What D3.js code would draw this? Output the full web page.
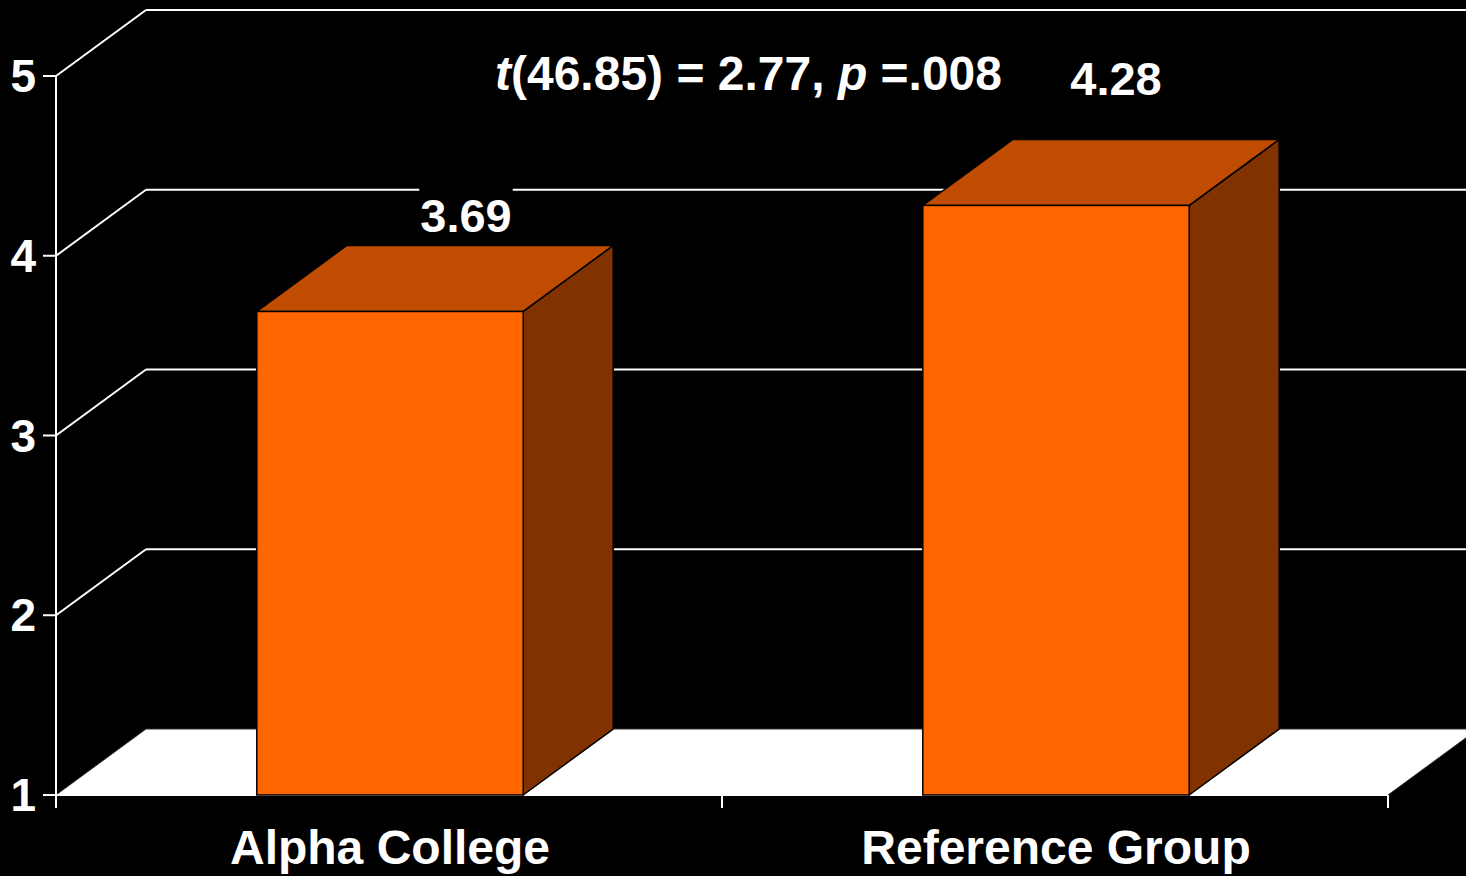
<!DOCTYPE html>
<html>
<head>
<meta charset="utf-8">
<script src="https://cdn.jsdelivr.net/npm/d3@7"></script>
<style>
  html, body { margin: 0; padding: 0; background: #000; }
  svg { display: block; }
</style>
</head>
<body>
<svg id="chart"></svg>
<script>
// Chart data
const categories = ["Alpha College", "Reference Group"];
const means = [3.69, 4.28];
const valueLabels = ["3.69", "4.28"];
const yTicks = [1, 2, 3, 4, 5];
const annotation = [
  { text: "t", italic: true },
  { text: "(46.85) = 2.77, ", italic: false },
  { text: "p", italic: true },
  { text: " =.008", italic: false }
];

// Layout
const chartW = 1466, chartH = 876;
const plotLeft = 56, plotRight = 1388, plotBottom = 795, plotTop = 76;
const depthX = 90, depthY = 66; // 3D offset of the back wall
const font = "'Liberation Sans', Arial, sans-serif";
// value labels sit a little off the bar top, as in the original
const labelShift = [[76, 0], [60, 31]];

const svg = d3.select("#chart").attr("width", chartW).attr("height", chartH);

svg.append("rect").attr("width", chartW).attr("height", chartH).attr("fill", "#000");

const x = d3.scaleBand().domain(categories).range([plotLeft, plotRight]).padding(0);
const y = d3.scaleLinear().domain([1, 5]).range([plotBottom, plotTop]);
const barW = x.bandwidth() * 0.4;

const pts = (arr) => arr.map((p) => p.join(",")).join(" ");

// Floor
const yMin = y(1);
svg.append("polygon")
  .attr("points", pts([
    [plotLeft, yMin], [plotRight, yMin],
    [plotRight + depthX, yMin - depthY], [plotLeft + depthX, yMin - depthY]
  ]))
  .attr("fill", "#fff")
  .attr("stroke", "#333")
  .attr("stroke-width", 1);

// Back wall gridlines and left wall diagonals
const grid = svg.append("g");
yTicks.filter((d) => d > 1).forEach((d) => {
  grid.append("line")
    .attr("x1", plotLeft + depthX).attr("x2", chartW + 20)
    .attr("y1", y(d) - depthY).attr("y2", y(d) - depthY)
    .attr("stroke", "#fff").attr("stroke-width", 2);
  grid.append("line")
    .attr("x1", plotLeft).attr("y1", y(d))
    .attr("x2", plotLeft + depthX).attr("y2", y(d) - depthY)
    .attr("stroke", "#fff").attr("stroke-width", 2);
});

// Y axis
const yAxis = svg.append("g");
yAxis.append("line")
  .attr("x1", plotLeft).attr("x2", plotLeft)
  .attr("y1", y(5)).attr("y2", plotBottom + 13)
  .attr("stroke", "#fff").attr("stroke-width", 2);
yAxis.append("line")
  .attr("x1", plotLeft - 13).attr("x2", plotRight)
  .attr("y1", plotBottom).attr("y2", plotBottom)
  .attr("stroke", "#fff").attr("stroke-width", 2);
yTicks.forEach((d) => {
  yAxis.append("line")
    .attr("x1", plotLeft - 13).attr("x2", plotLeft)
    .attr("y1", y(d)).attr("y2", y(d))
    .attr("stroke", "#fff").attr("stroke-width", 2);
  yAxis.append("text")
    .attr("x", 36).attr("y", y(d) + 16)
    .attr("text-anchor", "end")
    .attr("fill", "#fff")
    .style("font-family", font).style("font-weight", "bold").style("font-size", "46px")
    .text(d);
});

// X ticks
[plotLeft, plotLeft + x.step(), plotRight].forEach((t) => {
  svg.append("line")
    .attr("x1", t).attr("x2", t)
    .attr("y1", plotBottom).attr("y2", plotBottom + 13)
    .attr("stroke", "#fff").attr("stroke-width", 2);
});

// Bars
const bars = svg.selectAll(".bar")
  .data(categories.map((c, i) => ({ cat: c, value: means[i], label: valueLabels[i], shift: labelShift[i] })))
  .enter().append("g").attr("class", "bar");

bars.each(function (d) {
  const g = d3.select(this);
  const x0 = x(d.cat) + (x.bandwidth() - barW) / 2 + 1;
  const x1 = x0 + barW;
  const yt = y(d.value);
  const yb = y(1);
  // side
  g.append("polygon")
    .attr("points", pts([[x1, yb], [x1 + depthX, yb - depthY], [x1 + depthX, yt - depthY], [x1, yt]]))
    .attr("fill", "#803300").attr("stroke", "#000").attr("stroke-width", 1.5);
  // top
  g.append("polygon")
    .attr("points", pts([[x0, yt], [x1, yt], [x1 + depthX, yt - depthY], [x0 + depthX, yt - depthY]]))
    .attr("fill", "#BF4C00").attr("stroke", "#000").attr("stroke-width", 1.5);
  // front
  g.append("rect")
    .attr("x", x0).attr("y", yt)
    .attr("width", barW).attr("height", yb - yt)
    .attr("fill", "#FF6600").attr("stroke", "#000").attr("stroke-width", 1.5);

  // value label with black box
  const lx = x0 + barW / 2 + d.shift[0];
  const ly = yt - depthY - 13 - d.shift[1];
  const txt = g.append("text")
    .attr("x", lx).attr("y", ly)
    .attr("text-anchor", "middle")
    .attr("fill", "#fff")
    .style("font-family", font).style("font-weight", "bold").style("font-size", "47px")
    .text(d.label);
  const bb = txt.node().getBBox();
  g.insert("rect", "text")
    .attr("x", bb.x - 1).attr("y", ly - 46)
    .attr("width", bb.width + 2).attr("height", 46 + 12)
    .attr("fill", "#000");
});

// Annotation
const ann = svg.append("text")
  .attr("x", 495).attr("y", 90)
  .attr("fill", "#fff")
  .style("font-family", font).style("font-weight", "bold").style("font-size", "48px");
annotation.forEach((a) => {
  ann.append("tspan")
    .style("font-style", a.italic ? "italic" : "normal")
    .text(a.text);
});

// Category labels
svg.selectAll(".cat")
  .data(categories)
  .enter().append("text")
  .attr("class", "cat")
  .attr("x", (d) => x(d) + x.bandwidth() / 2 + 1)
  .attr("y", 864)
  .attr("text-anchor", "middle")
  .attr("fill", "#fff")
  .style("font-family", font).style("font-weight", "bold").style("font-size", "48px")
  .text((d) => d);
</script>
</body>
</html>
